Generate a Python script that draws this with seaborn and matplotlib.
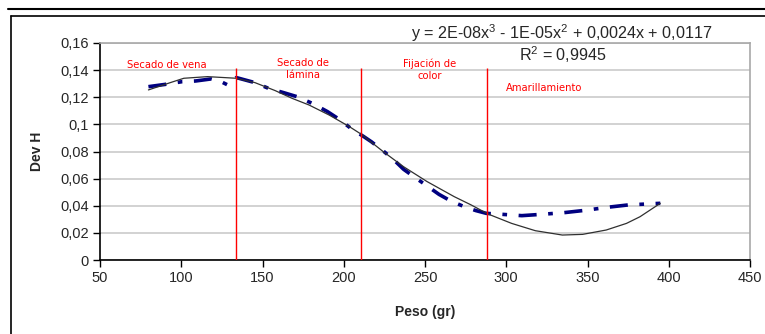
import numpy as np
import pandas as pd
import matplotlib
matplotlib.use("Agg")
import matplotlib.pyplot as plt
from matplotlib.lines import Line2D
from matplotlib.ticker import FuncFormatter
import seaborn as sns

# Weight (g) versus hue deviation along the curing process
peso = [79.8, 90.2, 100.6, 108.9, 118.3, 124.5, 128.7, 133.9, 145.3, 153.6,
        163.0, 171.3, 180.6, 190.0, 197.3, 205.6, 211.8, 217.0, 224.3, 230.5,
        236.8, 244.0, 251.3, 258.6, 265.9, 274.2, 281.4, 287.7, 297.1, 309.6,
        322.0, 335.5, 349.1, 362.5, 375.0, 386.5, 394.8]
dev_h = [0.1278, 0.1295, 0.1315, 0.1320, 0.1335, 0.1315, 0.1290, 0.1345,
         0.1308, 0.1266, 0.1234, 0.1204, 0.1155, 0.1094, 0.1037, 0.0959,
         0.0914, 0.0872, 0.0804, 0.0742, 0.0669, 0.0607, 0.0546, 0.0484,
         0.0435, 0.0393, 0.0364, 0.0344, 0.0337, 0.0327, 0.0337, 0.0349,
         0.0367, 0.0389, 0.0406, 0.0413, 0.0418]

# Polynomial (order 3) trend line values
tend_x = [79.8, 93.3, 101.6, 116.2, 133.9, 145.3, 157.8, 168.2, 178.6, 191.0,
          203.5, 210.8, 224.3, 236.8, 251.3, 268.0, 278.4, 288.8, 303.3, 317.9,
          334.5, 347.0, 361.5, 374.0, 382.3, 394.8]
tend_y = [0.1254, 0.1308, 0.1340, 0.1352, 0.1340, 0.1308, 0.1249, 0.1192,
          0.1143, 0.1069, 0.0983, 0.0927, 0.0799, 0.0688, 0.0578, 0.0467,
          0.0406, 0.0339, 0.0270, 0.0216, 0.0184, 0.0189, 0.0221, 0.0270,
          0.0319, 0.0418]

# Stage boundaries (g) and stage names
limites = [133.7, 210.6, 288.0]
etapas = ["Secado de vena", "Secado de\nlámina", "Fijación de\ncolor", "Amarillamiento"]
etapas_x = [91, 175, 253, 323]
etapas_y = [0.1440, 0.1405, 0.1405, 0.1265]

x_ticks = [50, 100, 150, 200, 250, 300, 350, 400, 450]
y_ticks = [0, 0.02, 0.04, 0.06, 0.08, 0.1, 0.12, 0.14, 0.16]

ecuacion = "y = 2E-08x$^3$ - 1E-05x$^2$ + 0,0024x + 0,0117"
r2 = "R$^2$ = 0,9945"

df = pd.DataFrame({"Peso (gr)": peso, "Dev H": dev_h})
df_tend = pd.DataFrame({"Peso (gr)": tend_x, "Dev H": tend_y})

sns.set_theme(style="white")
plt.rcParams["font.family"] = ["Liberation Sans", "DejaVu Sans"]
plt.rcParams["mathtext.fontset"] = "custom"
plt.rcParams["mathtext.rm"] = "Liberation Sans"

fig = plt.figure(figsize=(7.65, 3.34), dpi=100)
ax = fig.add_axes([100 / 765, 74 / 334, 650 / 765, 217 / 334])

ax.set_xlim(50, 450)
ax.set_ylim(0, 0.16)
ax.set_xticks(x_ticks)
ax.set_yticks(y_ticks)
ax.yaxis.grid(True, color="#cfcfcf", lw=1.3)
ax.set_axisbelow(True)

# Measured series
sns.lineplot(data=df, x="Peso (gr)", y="Dev H", ax=ax, sort=False,
             color="#000080", lw=2.6, linestyle=(0, (5, 3.2, 1.3, 3.2)),
             zorder=3)

# Trend line
sns.lineplot(data=df_tend, x="Peso (gr)", y="Dev H", ax=ax, sort=False,
             color="#303030", lw=0.9, zorder=4)

# Stage boundaries
for xv in limites:
    ax.vlines(xv, 0, 0.1415, color="#ff0000", lw=1.0, zorder=5)
for t, tx, ty in zip(etapas, etapas_x, etapas_y):
    ax.text(tx, ty, t, color="#ff0000", fontsize=7.2, ha="center", va="center",
            family="DejaVu Sans", linespacing=1.25)

fmt = FuncFormatter(lambda v, p: ("%g" % round(v, 4)).replace(".", ","))
ax.xaxis.set_major_formatter(FuncFormatter(lambda v, p: "%d" % v))
ax.yaxis.set_major_formatter(fmt)
ax.tick_params(axis="both", direction="out", length=5, width=1, color="black",
               labelsize=10.5, pad=3, bottom=True, left=True)
for s in ["left", "bottom"]:
    ax.spines[s].set_color("black")
    ax.spines[s].set_linewidth(1.2)
for s in ["top", "right"]:
    ax.spines[s].set_color("#a8a8a8")
    ax.spines[s].set_linewidth(1.2)

ax.set_xlabel("Peso (gr)", fontsize=10, fontweight="bold", labelpad=14)
ax.set_ylabel("Dev H", fontsize=10, fontweight="bold", labelpad=12)

fig.text(562 / 765, 1 - 33 / 334, ecuacion, fontsize=11.6, ha="center", va="center")
fig.text(563 / 765, 1 - 55 / 334, r2, fontsize=11.6, ha="center", va="center")

# Outer frame lines
fig.add_artist(Line2D([8 / 765, 1], [1 - 9 / 334, 1 - 9 / 334], color="black", lw=1.5))
fig.add_artist(Line2D([11 / 765, 1], [1 - 16 / 334, 1 - 16 / 334], color="black", lw=1.2))
fig.add_artist(Line2D([11 / 765, 11 / 765], [1 - 16 / 334, 0], color="black", lw=1.2))

fig.savefig("out.png", dpi=100)
